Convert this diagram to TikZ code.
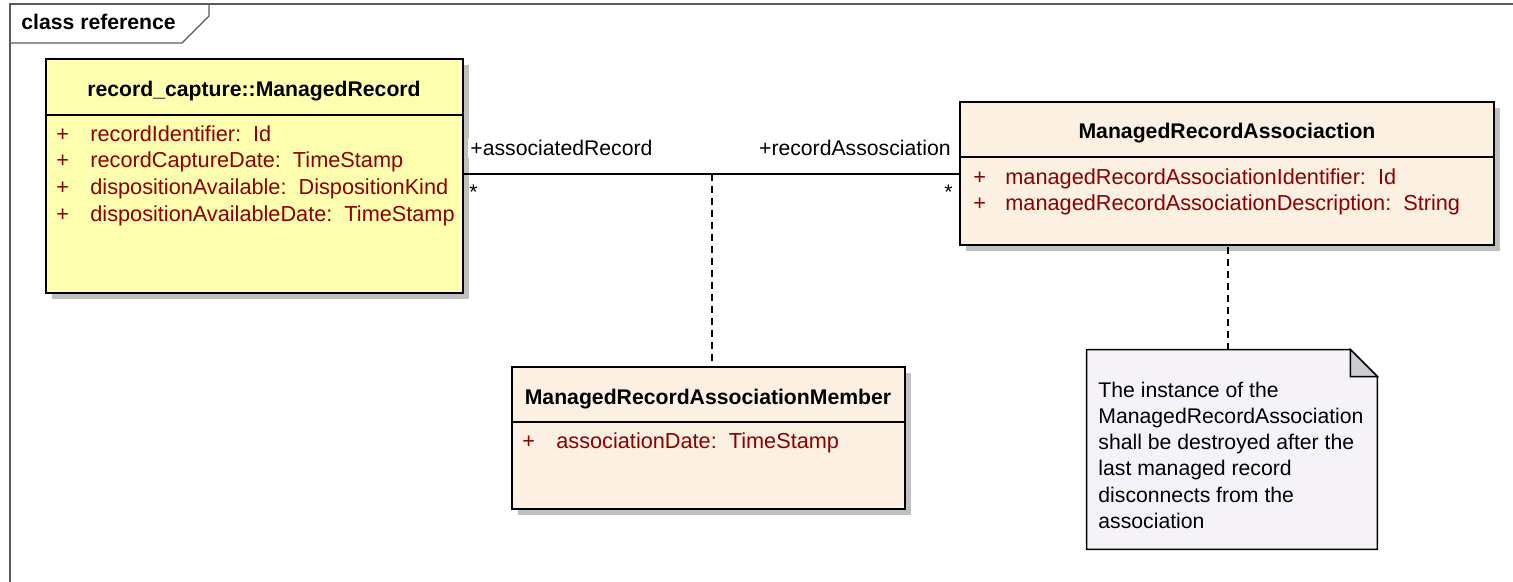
\documentclass[tikz,border=0pt]{standalone}
\usepackage{fontspec}
\setmainfont{Liberation Sans}
\usetikzlibrary{fit,shadows}

\definecolor{classyellow}{RGB}{255,255,176}
\definecolor{classbeige}{RGB}{251,240,225}
\definecolor{notefill}{RGB}{245,243,247}
\definecolor{foldgray}{RGB}{206,204,209}
\definecolor{attrred}{RGB}{140,0,0}
\definecolor{shadowgray}{RGB}{192,192,192}
\definecolor{framegray}{RGB}{90,90,90}

\begin{document}
\begin{tikzpicture}[x=0.5pt,y=-0.5pt,
  txt/.style={font=\fontsize{10.6}{13}\selectfont, inner sep=0pt},
  classbox/.style={draw, line width=1pt, inner sep=0pt,
    drop shadow={shadow xshift=3pt, shadow yshift=-3pt, fill=shadowgray, opacity=1}},
  classtitle/.style={txt, font=\bfseries\fontsize{10.6}{13}\selectfont, anchor=base},
  attr/.style={txt, font=\fontsize{10.85}{13}\selectfont, text=attrred, anchor=base west},
  rolelabel/.style={txt, fill=white, inner sep=1pt},
  sep/.style={line width=0.75pt},
  assoc/.style={line width=0.75pt},
  dashlink/.style={line width=0.75pt, dash pattern=on 3.5pt off 2.5pt},
  notetext/.style={txt, anchor=base west}]

\useasboundingbox (0,0) rectangle (1513,582);

% diagram frame and its name tab
\draw[framegray, line width=0.6pt] (10,582) -- (10,4) -- (1513,4);
\draw[framegray, line width=0.6pt] (10,43) -- (182,43) -- (209,16) -- (209,4);
\node[txt, font=\bfseries\fontsize{10.6}{13}\selectfont, anchor=base west] (framename) at (21,30) {class reference};

% class boxes
\node[classbox, fill=classyellow, fit={(46,59) (463,293)}] (mr) {};
\node[classbox, fill=classbeige, fit={(960,102) (1494,245)}] (mra) {};
\node[classbox, fill=classbeige, fit={(512,367) (905,509)}] (mem) {};

% record_capture::ManagedRecord
\node[classtitle] (mrtitle) at (254,97) {record\_capture::ManagedRecord};
\draw[sep] (mr.west |- 0,115) -- (mr.east |- 0,115);
\foreach \y/\t [count=\i] in {142/recordIdentifier:\ \ Id,
                              168/recordCaptureDate:\ \ TimeStamp,
                              195/dispositionAvailable:\ \ DispositionKind,
                              222/dispositionAvailableDate:\ \ TimeStamp} {
  \node[attr] (mrplus\i) at (56,\y) {+};
  \node[attr] (mrattr\i) at (90,\y) {\t};
}

% ManagedRecordAssociaction
\node[classtitle] (mratitle) at (1227,139) {ManagedRecordAssociaction};
\draw[sep] (mra.west |- 0,157) -- (mra.east |- 0,157);
\foreach \y/\t [count=\i] in {185/managedRecordAssociationIdentifier:\ \ Id,
                              211/managedRecordAssociationDescription:\ \ String} {
  \node[attr] (mraplus\i) at (973,\y) {+};
  \node[attr] (mraattr\i) at (1005,\y) {\t};
}

% ManagedRecordAssociationMember
\node[classtitle] (memtitle) at (708,404) {ManagedRecordAssociationMember};
\draw[sep] (mem.west |- 0,422) -- (mem.east |- 0,422);
\node[attr] (memplus) at (522,448) {+};
\node[attr] (memattr) at (556,448) {associationDate:\ \ TimeStamp};

% association between ManagedRecord and ManagedRecordAssociaction
\coordinate (amid) at (712,174);
\draw[assoc] (mr.east |- amid) -- (mra.west |- amid);
\node[rolelabel, anchor=base west] (role1) at (468,156) {+associatedRecord};
\node[rolelabel, anchor=base east] (role2) at (953,156) {+recordAssosciation};
\node[txt, anchor=base west] (mult1) at (469,200) {*};
\node[txt, anchor=base east] (mult2) at (953,200) {*};

% association class link
\draw[dashlink] (amid) -- (mem.north -| amid);

% note
\node[fit={(1087,350) (1377,549)}, inner sep=0pt] (note) {};
\draw[line width=0.75pt, fill=notefill]
  (note.north west) -- ([xshift=-13.5pt]note.north east)
  -- ([yshift=-13.5pt]note.north east) -- (note.south east)
  -- (note.south west) -- cycle;
\draw[line width=0.75pt, fill=foldgray]
  ([xshift=-13.5pt]note.north east) -- ([xshift=-13.5pt,yshift=-13.5pt]note.north east)
  -- ([yshift=-13.5pt]note.north east) -- cycle;
\foreach \y/\t [count=\i] in {397/The instance of the,
                              423/ManagedRecordAssociation,
                              449/shall be destroyed after the,
                              475/last managed record,
                              502/disconnects from the,
                              528/association} {
  \node[notetext] (noteline\i) at (1098,\y) {\t};
}
\coordinate (notelink) at (1228,350);
\draw[dashlink] (notelink) -- (mra.south -| notelink);

\end{tikzpicture}
\end{document}
